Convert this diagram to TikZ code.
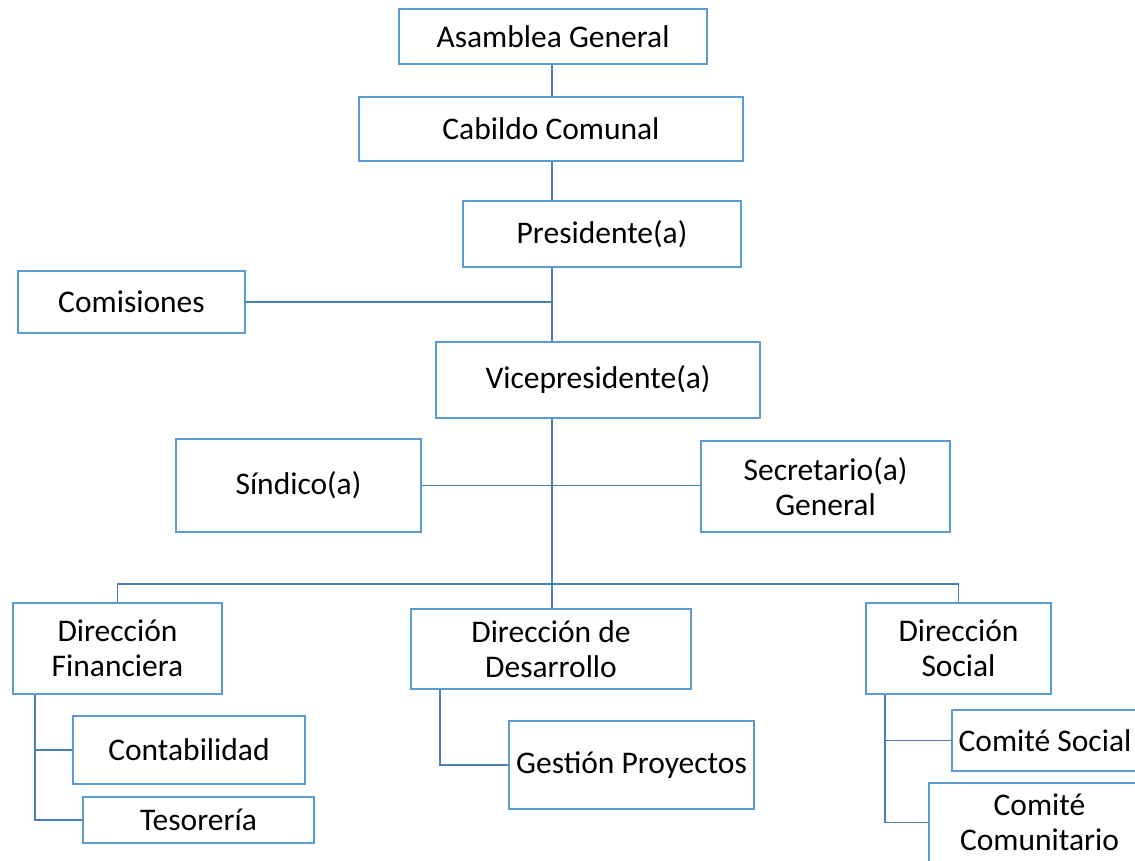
\documentclass[tikz,border=0pt]{standalone}
\usepackage{fontspec}
\setmainfont{Carlito}
\usetikzlibrary{backgrounds}
\definecolor{boxblue}{RGB}{91,155,213}
\definecolor{lineblue}{RGB}{74,126,187}
\begin{document}
\begin{tikzpicture}[x=1pt,y=-1pt,
  orgbox/.style={draw=boxblue, line width=2.8pt, fill=white, inner sep=0pt, align=center,
    font=\fontsize{31.5}{35}\selectfont},
  conn/.style={draw=lineblue, line width=1.3pt}]
\useasboundingbox (0,0) rectangle (1135,861);
\clip (0,0) rectangle (1135,861);
\node[orgbox, minimum width=308, minimum height=55] (ag) at (553,36.5) {Asamblea General};
\node[orgbox, minimum width=384, minimum height=64] (cab) at (551,129) {Cabildo Comunal};
\node[orgbox, minimum width=278, minimum height=66] (pr) at (602,234) {Presidente(a)};
\node[orgbox, minimum width=227, minimum height=62] (com) at (131.5,302) {Comisiones};
\node[orgbox, minimum width=324, minimum height=76] (vp) at (598,380) {Vicepresidente(a)};
\node[orgbox, minimum width=245, minimum height=93] (sin) at (298.5,485.5) {Síndico(a)};
\node[orgbox, minimum width=249, minimum height=91] (sec) at (825.5,486.5) {Secretario(a)\\General};
\node[orgbox, minimum width=209, minimum height=91] (df) at (117.5,648.5) {Dirección\\Financiera};
\node[orgbox, minimum width=280, minimum height=80] (dd) at (551,649) {Dirección de\\Desarrollo};
\node[orgbox, minimum width=185, minimum height=91] (dso) at (958.5,648.5) {Dirección\\Social};
\node[orgbox, minimum width=232, minimum height=68] (cont) at (189,750) {Contabilidad};
\node[orgbox, minimum width=231, minimum height=46] (tes) at (198.5,820) {Tesorería};
\node[orgbox, minimum width=245, minimum height=88] (gp) at (631.5,765) {Gestión Proyectos};
\node[orgbox, minimum width=186, minimum height=61] (cs) at (1045,740.5) {Comité Social};
\node[orgbox, minimum width=221, minimum height=79] (cc) at (1039.5,822.5) {Comité\\Comunitario};
\coordinate (sp) at (552,0);
\coordinate (barc) at (552,584);
\coordinate (fx) at (35,0);
\coordinate (dx) at (440,0);
\coordinate (sx) at (885,0);
\begin{scope}[on background layer]
\draw[conn] (sp |- ag.south) -- (sp |- dd.north);
\draw[conn] (com.east) -- (com.east -| sp);
\draw[conn] (sin.east) -- (sin.east -| sec.west);
\draw[conn] (df.north) |- (barc) -| (dso.north);
\draw[conn] (fx |- df.south) |- (cont.west);
\draw[conn] (fx |- cont.west) |- (tes.west);
\draw[conn] (dx |- dd.south) |- (gp.west);
\draw[conn] (sx |- dso.south) |- (cs.west);
\draw[conn] (sx |- cs.west) |- (cc.west);
\end{scope}
\end{tikzpicture}
\end{document}
